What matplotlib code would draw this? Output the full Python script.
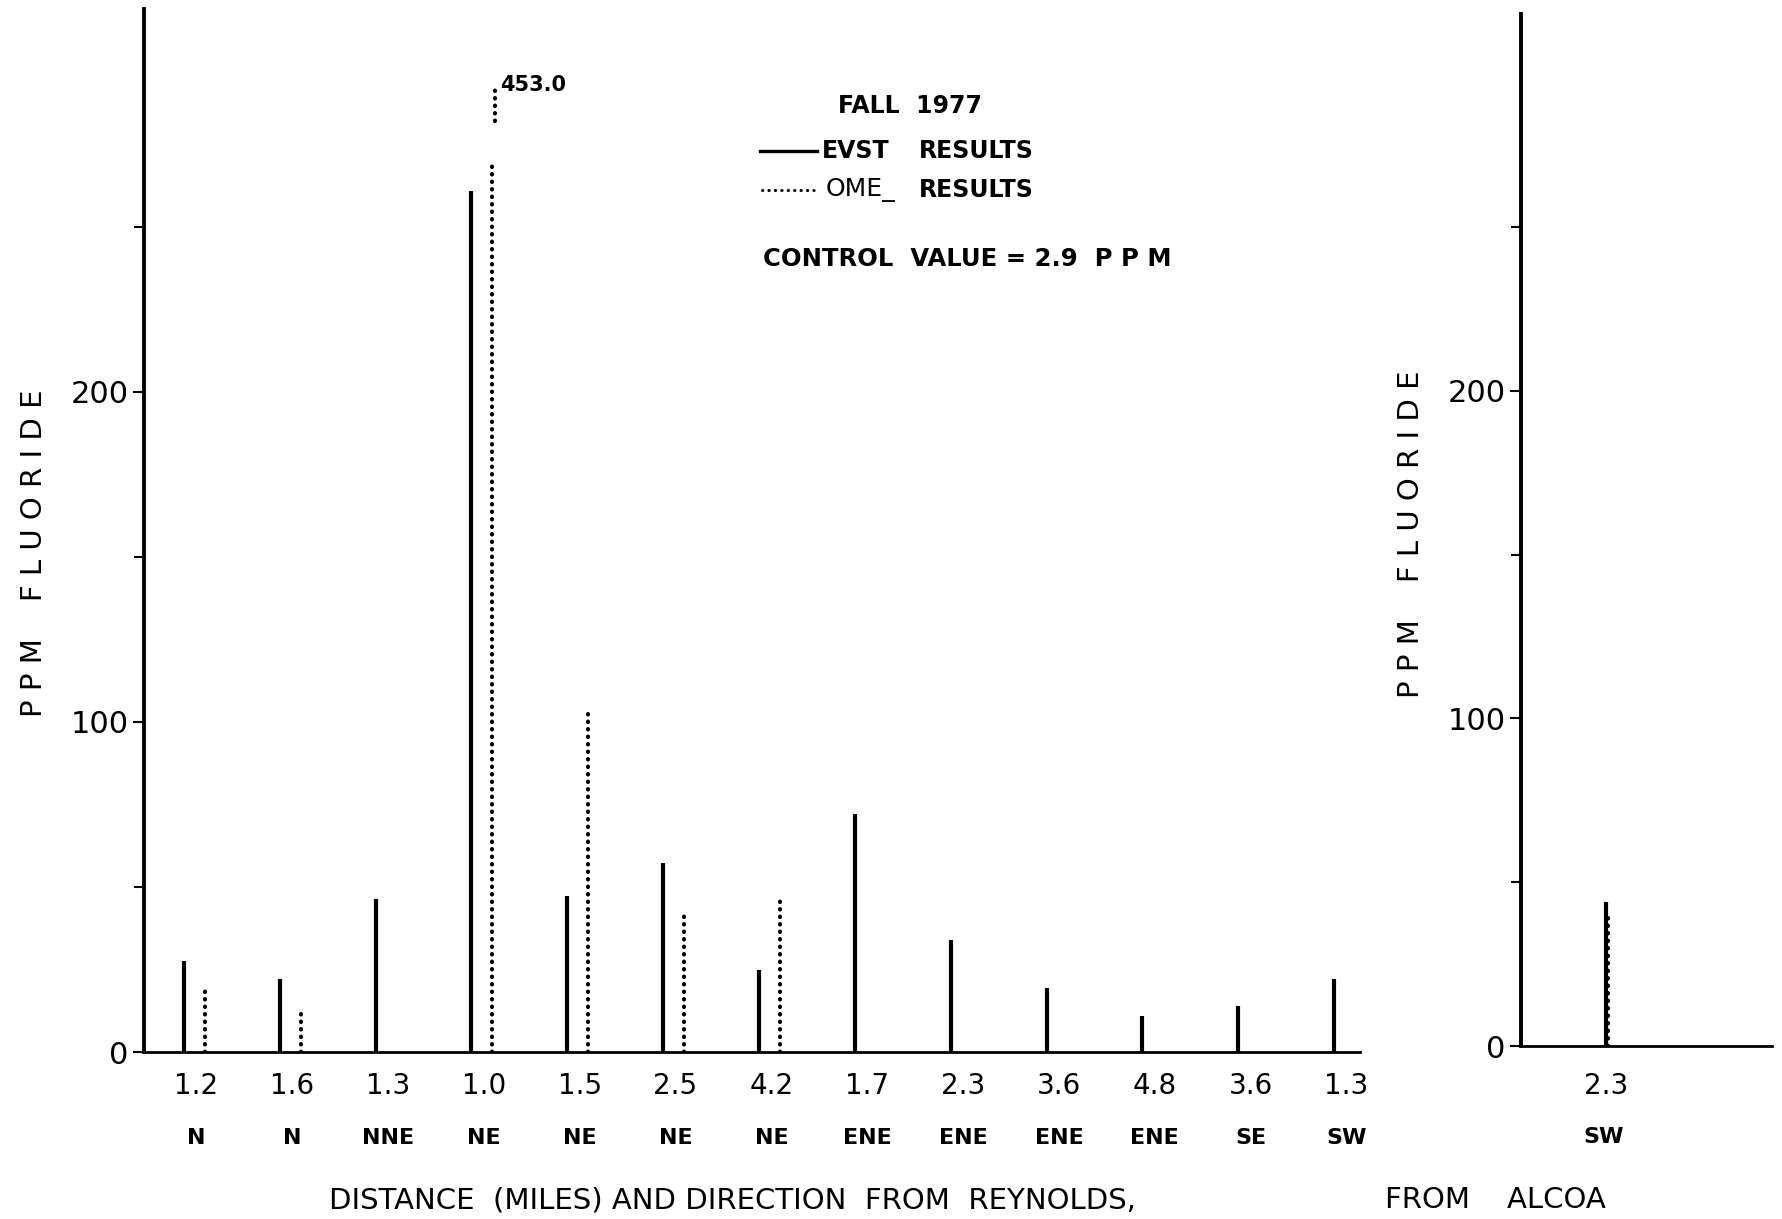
import matplotlib
matplotlib.use("Agg")
import matplotlib.pyplot as plt
from matplotlib.ticker import FixedLocator

# data (ppm fluoride)
distances = ["1.2", "1.6", "1.3", "1.0", "1.5", "2.5", "4.2", "1.7", "2.3", "3.6", "4.8", "3.6", "1.3"]
directions = ["N", "N", "NNE", "NE", "NE", "NE", "NE", "ENE", "ENE", "ENE", "ENE", "SE", "SW"]
evst = [27.6, 22.0, 46.5, 261.0, 47.2, 57.2, 24.8, 72.0, 34.0, 19.3, 11.0, 14.0, 22.0]
ome = [19.7, 12.8, None, 270.0, 104.0, 43.0, 46.5, None, None, None, None, None, None]
ome_peak = 453.0

alcoa_distance = "2.3"
alcoa_direction = "SW"
alcoa_evst = 44.0
alcoa_ome = 40.0

W, H = 1783, 1219
fig = plt.figure(figsize=(W / 100, H / 100), dpi=100)
fig.patch.set_facecolor("white")

solid_kw = dict(color="black", linewidth=3.0, solid_capstyle="butt")
dot_kw = dict(color="black", linewidth=3.0, linestyle=(0, (0.1, 1.7)), dash_capstyle="round")

# ---- left panel: Reynolds
ax = fig.add_axes([144 / W, 1 - 1052 / H, (1360 - 144) / W, (1052 - 9) / H])
ax.set_xlim(-0.415, 12.27)
ax.set_ylim(0, 316)
for i, v in enumerate(evst):
    ax.plot([i, i], [0, v], **solid_kw)
for i, v in enumerate(ome):
    if v is not None:
        ax.plot([i + 0.22, i + 0.22], [0, v], **dot_kw)
# broken bar for the off-scale OME value
ax.plot([3.25, 3.25], [282, 293], **dot_kw)
ax.text(3.3, 293, f"{ome_peak:.1f}", fontsize=15, fontweight="bold", va="center", ha="left")

for i, (d, r) in enumerate(zip(distances, directions)):
    ax.text(i + 0.13, -0.033, d, transform=ax.get_xaxis_transform(), ha="center", va="center",
            fontsize=20)
    ax.text(i + 0.13, -0.082, r, transform=ax.get_xaxis_transform(),
            ha="center", va="center", fontsize=16, fontweight="bold")

# ---- right panel: Alcoa
ax2 = fig.add_axes([1521 / W, 1 - 1046 / H, (1772 - 1521) / W, (1046 - 14) / H])
ax2.set_xlim(0, 1)
ax2.set_ylim(0, 315)
ax2.plot([0.34, 0.34], [0, alcoa_evst], **solid_kw)
ax2.plot([0.345, 0.345], [0, alcoa_ome], **dot_kw)
ax2.text(0.34, -0.039, alcoa_distance, transform=ax2.get_xaxis_transform(), ha="center", va="center",
         fontsize=20)
ax2.text(0.33, -0.088, alcoa_direction, transform=ax2.get_xaxis_transform(), ha="center",
         va="center", fontsize=16, fontweight="bold")

for a in (ax, ax2):
    a.set_facecolor("none")
    a.spines["top"].set_visible(False)
    a.spines["right"].set_visible(False)
    a.spines["left"].set_linewidth(2.8)
    a.spines["bottom"].set_linewidth(2.0)
    a.set_xticks([])
    a.yaxis.set_major_locator(FixedLocator([0, 100, 200]))
    a.yaxis.set_minor_locator(FixedLocator([50, 150, 250]))
    a.tick_params(axis="y", which="major", length=8, width=1.5, labelsize=22, pad=3)
    a.tick_params(axis="y", which="minor", length=7, width=1.5)

# axis titles
fig.text(34 / W, 1 - 553 / H, "P P M    F L U O R I D E", rotation=90, ha="center", va="center",
         fontsize=21)
fig.text(1411 / W, 1 - 534 / H, "P P M    F L U O R I D E", rotation=90, ha="center", va="center",
         fontsize=21)
fig.text(733 / W, 1 - 1200 / H, "DISTANCE  (MILES) AND DIRECTION  FROM  REYNOLDS,", ha="center",
         va="center", fontsize=21)
fig.text(1495 / W, 1 - 1200 / H, "FROM    ALCOA", ha="center", va="center", fontsize=21)

# legend block
fig.text(910 / W, 1 - 106 / H, "FALL  1977", ha="center", va="center", fontsize=17, fontweight="bold")
fig.add_artist(plt.Line2D([760 / W, 817 / W], [1 - 151 / H, 1 - 151 / H], color="black", linewidth=2.4))
fig.add_artist(plt.Line2D([762 / W, 814 / W], [1 - 190 / H, 1 - 190 / H], color="black", linewidth=2.2,
                          linestyle=(0, (0.1, 2.0)), dash_capstyle="round"))
fig.text(822 / W, 1 - 151 / H, "EVST", ha="left", va="center", fontsize=17, fontweight="bold")
fig.text(919 / W, 1 - 151 / H, "RESULTS", ha="left", va="center", fontsize=17, fontweight="bold")
fig.text(826 / W, 1 - 190 / H, "OME_", ha="left", va="center", fontsize=18)
fig.text(919 / W, 1 - 190 / H, "RESULTS", ha="left", va="center", fontsize=17, fontweight="bold")
fig.text(763 / W, 1 - 259 / H, "CONTROL  VALUE = 2.9  P P M", ha="left", va="center", fontsize=17.5,
         fontweight="bold")

fig.savefig("out.png", dpi=100, facecolor="white")
